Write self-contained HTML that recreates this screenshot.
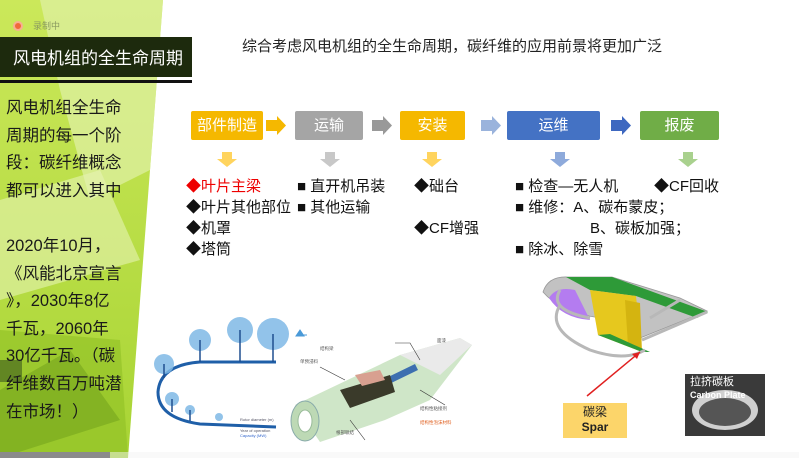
<!DOCTYPE html>
<html><head><meta charset="utf-8"><style>
*{margin:0;padding:0;box-sizing:border-box}
body{width:799px;height:458px;overflow:hidden;background:#fff;position:relative;font-family:"Liberation Sans","Noto Sans CJK SC",sans-serif}
.a{position:absolute;white-space:nowrap}
.box{position:absolute;top:111px;height:29px;color:#fff;font-size:15px;text-align:center;line-height:29px;border-radius:2px}
.lst{position:absolute;font-size:15px;line-height:21px;color:#111;white-space:nowrap}
.left{position:absolute;left:6px;top:95px;font-size:16.5px;line-height:27.6px;color:#1a1a1a}
</style></head><body>
<svg class="a" style="left:0;top:0" width="799" height="458">
<defs><linearGradient id="g1" x1="0" y1="0" x2="0" y2="1"><stop offset="0" stop-color="#cbe85a"/><stop offset="1" stop-color="#a8d434"/></linearGradient></defs>
<polygon points="0,0 163,0 128,458 0,458" fill="url(#g1)"/>
<polygon points="40,0 163,0 150,170 90,200 60,90" fill="#dcef9c" opacity=".8"/>
<polygon points="0,200 100,170 140,260 0,300" fill="#e6f4b4" opacity=".6"/>
<polygon points="0,330 120,340 128,458 0,458" fill="#8fbf24" opacity=".6"/>
<polygon points="0,390 70,350 120,420 0,458" fill="#6e9e1a" opacity=".5"/>
<rect x="0" y="37" width="192" height="40" fill="#1d2a0d"/>
<rect x="0" y="80" width="192" height="3" fill="#111"/>
<circle cx="18" cy="26" r="4" fill="#f06a3a" stroke="#f8b090" stroke-width="2"/>
<rect x="0" y="360" width="22" height="22" fill="#4a6a20" opacity=".7"/>
<rect x="0" y="452" width="110" height="6" fill="#222"/>
<g>
<polygon points="266,120 277,120 277,116 286,125.5 277,135 277,131 266,131" fill="#f5b800"/>
<polygon points="372,120 383,120 383,116 392,125.5 383,135 383,131 372,131" fill="#999"/>
<polygon points="481,120 492,120 492,116 501,125.5 492,135 492,131 481,131" fill="#9ab3dc"/>
<polygon points="611,120 622,120 622,116 631,125.5 622,135 622,131 611,131" fill="#3e68c0"/>
</g>
<g>
<polygon points="222,152 232,152 232,159 237,159 227,167 217,159 222,159" fill="#ffd45e"/>
<polygon points="325,152 335,152 335,159 340,159 330,167 320,159 325,159" fill="#c8c8c8"/>
<polygon points="427,152 437,152 437,159 442,159 432,167 422,159 427,159" fill="#ffd45e"/>
<polygon points="555,152 565,152 565,159 570,159 560,167 550,159 555,159" fill="#8eaadb"/>
<polygon points="683,152 693,152 693,159 698,159 688,167 678,159 683,159" fill="#a9d18e"/>
</g>
<path d="M276,427 L200,424 Q158,418 158,392 Q160,365 200,362 L276,362" fill="none" stroke="#1f5fa8" stroke-width="3"/>
<g fill="#7fb9e6" opacity=".85">
<circle cx="164" cy="364" r="10"/><circle cx="200" cy="340" r="11"/><circle cx="240" cy="330" r="13"/><circle cx="273" cy="334" r="16"/>
<circle cx="172" cy="399" r="7"/><circle cx="190" cy="410" r="5"/><circle cx="219" cy="417" r="4"/>
</g>
<g stroke="#1f4f90" stroke-width="1.5"><line x1="164" y1="364" x2="164" y2="378"/><line x1="200" y1="340" x2="200" y2="362"/><line x1="240" y1="330" x2="240" y2="362"/><line x1="273" y1="334" x2="273" y2="362"/><line x1="172" y1="399" x2="172" y2="412"/><line x1="190" y1="410" x2="190" y2="421"/></g>
<path d="M300,330 l4,6 l-8,0 z M297,335 l10,0" stroke="#4a9ad8" fill="#4a9ad8"/>
<g font-size="4" fill="#556"><text x="240" y="421">Rotor diameter (m)</text><text x="240" y="432">Year of operation</text><text x="240" y="437" fill="#36c">Capacity (MW)</text></g>
<!-- blade -->
<polygon points="295,405 400,355 460,338 472,345 430,400 385,420 320,442" fill="#cfe6c8"/>
<polygon points="400,355 460,338 472,345 440,375" fill="#eaeaea"/>
<polygon points="382,380 415,364 418,370 385,386" fill="#3d6fb0"/>
<polygon points="340,390 390,375 395,392 350,408" fill="#3a3a2a"/>
<polygon points="355,375 380,370 385,380 362,386" fill="#d8a090"/>
<ellipse cx="305" cy="421" rx="14" ry="20" fill="#bdd9b5" stroke="#8aa" stroke-width="1"/>
<ellipse cx="305" cy="421" rx="7" ry="11" fill="#fff" stroke="#9b9" stroke-width="1"/>
<g stroke="#333" stroke-width=".6" fill="none"><path d="M395,343 L410,343 L420,360"/><path d="M320,367 L345,380"/><path d="M365,440 L350,420"/><path d="M445,405 L420,390"/></g>
<g font-size="4.5" fill="#555"><text x="437" y="342">面漆</text><text x="320" y="350">结构梁</text><text x="300" y="363">单预浸料</text><text x="420" y="410">结构性粘接剂</text><text x="420" y="424" fill="#e06020">结构性泡沫材料</text><text x="336" y="434">根部联结</text></g>
<!-- wing -->
<path d="M543,292 Q548,276 568,277 L612,277 L680,298 L707,311 L640,338 L600,318 Q560,312 543,292Z" fill="#c2c2c2" stroke="#999" stroke-width=".8"/>
<path d="M549,298 Q556,286 575,290 L590,320 Q562,318 549,298Z" fill="#b47cf0"/>
<polygon points="566,277 612,277 708,312 697,318 636,296 590,290" fill="#2e9a38"/>
<polygon points="590,290 636,296 642,352 598,335" fill="#e6c81e"/>
<polygon points="625,300 640,303 642,352 628,345" fill="#d4b410"/>
<polygon points="598,335 642,352 650,352 610,334" fill="#2e9a38"/>
<g fill="none" stroke="#b8b8b8" stroke-width="3">
<path d="M560,305 Q545,330 590,350 Q625,362 645,350"/>
<path d="M560,290 Q548,310 590,318"/>
<path d="M642,340 L707,312"/>
<path d="M680,300 L650,318"/>
</g>
<line x1="587" y1="396" x2="640" y2="352" stroke="#e02020" stroke-width="1.5"/>
<polygon points="640,352 632,354 637,359" fill="#e02020"/>
<rect x="563" y="403" width="64" height="35" fill="#fcd56a"/>
<rect x="685" y="374" width="80" height="62" fill="#3a3a3a"/>
<ellipse cx="725" cy="410" rx="33" ry="20" fill="#d0d0d0"/>
<ellipse cx="725" cy="412" rx="26" ry="14" fill="#555"/>
<rect x="0" y="452" width="799" height="6" fill="#f3f3f3" opacity=".5"/>
</svg>
<div class="a" style="left:33px;top:19px;font-size:9px;color:#8a9a60">录制中</div>
<div class="a" style="left:13px;top:44px;font-size:17px;color:#fff">风电机组的全生命周期</div>
<div class="left">风电机组全生命<br>周期的每一个阶<br>段：碳纤维概念<br>都可以进入其中<br><br>2020年10月，<br>《风能北京宣言<br>》，2030年8亿<br>千瓦，2060年<br>30亿千瓦。（碳<br>纤维数百万吨潜<br>在市场！）</div>
<div class="a" style="left:242px;top:35px;font-size:15px;color:#222">综合考虑风电机组的全生命周期，碳纤维的应用前景将更加广泛</div>
<div class="box" style="left:191px;width:72px;background:#f5b800">部件制造</div>
<div class="box" style="left:295px;width:68px;background:#a5a5a5">运输</div>
<div class="box" style="left:400px;width:65px;background:#f5b800">安装</div>
<div class="box" style="left:507px;width:93px;background:#4472c4">运维</div>
<div class="box" style="left:640px;width:79px;background:#70ad47">报废</div>
<div class="lst" style="left:186px;top:176px"><span style="color:#e00">◆叶片主梁</span><br>◆叶片其他部位<br>◆机罩<br>◆塔筒</div>
<div class="lst" style="left:297px;top:176px">■ 直开机吊装<br>■ 其他运输</div>
<div class="lst" style="left:414px;top:176px">◆础台<br><br>◆CF增强</div>
<div class="lst" style="left:515px;top:176px">■ 检查—无人机<br>■ 维修：A、碳布蒙皮；<br>　　　　　B、碳板加强；<br>■ 除冰、除雪</div>
<div class="lst" style="left:654px;top:176px">◆CF回收</div>
<div class="a" style="left:563px;top:405px;width:64px;text-align:center;font-size:12px;line-height:15px;color:#222">碳梁<br><b>Spar</b></div>
<div class="a" style="left:690px;top:376px;font-size:11px;line-height:13px;color:#fff">拉挤碳板<br><b style="font-size:9px">Carbon Plate</b></div>
</body></html>
